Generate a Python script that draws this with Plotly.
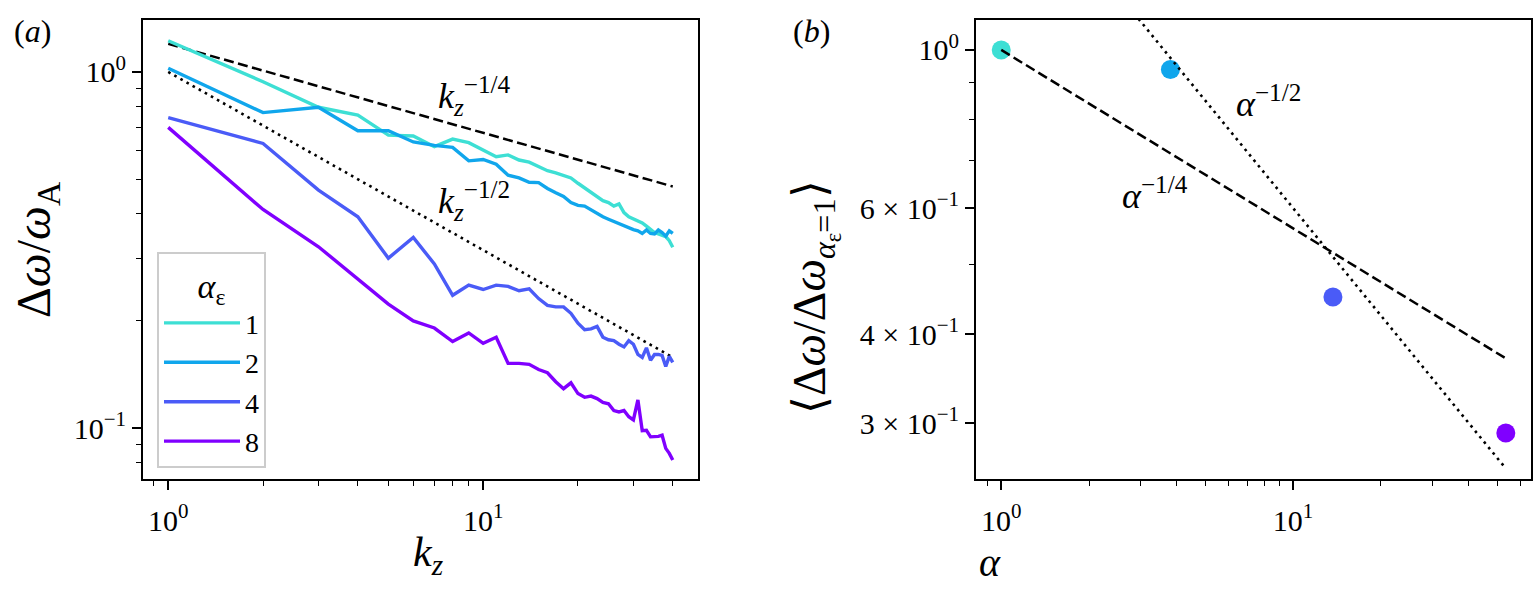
import plotly.graph_objects as go

# ---------------- data ----------------
kz = list(range(1, 41))

dw_a1 = [1.224, 0.939, 0.796, 0.757, 0.665, 0.661, 0.617, 0.648, 0.633, 0.604,
         0.578, 0.585, 0.566, 0.558, 0.542, 0.528, 0.521, 0.513, 0.504, 0.487,
         0.473, 0.460, 0.447, 0.435, 0.430, 0.420, 0.426, 0.403, 0.392, 0.386,
         0.381, 0.377, 0.369, 0.362, 0.354, 0.351, 0.348, 0.345, 0.336, 0.322]

dw_a2 = [1.024, 0.769, 0.796, 0.684, 0.684, 0.636, 0.622, 0.614, 0.563, 0.568,
         0.551, 0.513, 0.504, 0.490, 0.489, 0.471, 0.458, 0.447, 0.430, 0.422,
         0.420, 0.410, 0.399, 0.392, 0.386, 0.380, 0.376, 0.369, 0.364, 0.361,
         0.358, 0.352, 0.360, 0.352, 0.351, 0.360, 0.354, 0.346, 0.358, 0.352]

dw_a4 = [0.744, 0.630, 0.466, 0.392, 0.300, 0.343, 0.289, 0.236, 0.252, 0.245,
         0.252, 0.250, 0.243, 0.246, 0.231, 0.221, 0.219, 0.219, 0.210, 0.197,
         0.189, 0.190, 0.193, 0.180, 0.177, 0.176, 0.172, 0.169, 0.176, 0.172,
         0.161, 0.158, 0.168, 0.155, 0.161, 0.161, 0.160, 0.149, 0.159, 0.153]

dw_a8 = [0.699, 0.411, 0.323, 0.262, 0.223, 0.200, 0.191, 0.175, 0.185, 0.173,
         0.180, 0.152, 0.152, 0.151, 0.146, 0.143, 0.135, 0.129, 0.134, 0.125,
         0.122, 0.123, 0.121, 0.118, 0.117, 0.112, 0.111, 0.112, 0.1076, 0.1054,
         0.120, 0.0983, 0.0986, 0.0945, 0.0946, 0.0948, 0.0955, 0.0877, 0.0849, 0.0813]

series = [dw_a1, dw_a2, dw_a4, dw_a8]
alpha_eps_labels = ["1", "2", "4", "8"]
colors = ["#3ddfd4", "#10a6ec", "#4a5bf7", "#8000ff"]

ref_kz = [1, 40]
ref_kz_quarter = [1.2, 0.477]
ref_kz_half = [1.0, 0.158]

alpha = [1.0, 3.8, 13.7, 53.6]
ratio = [1.0, 0.939, 0.451, 0.291]
ref_alpha = [1.0, 53.6]
ref_alpha_quarter = [1.0, 0.370]
ref_alpha_half = [1.9, 0.2595]

# ---------------- figure ----------------
W, H = 1540, 596
FONT = "Liberation Serif"


def px(x):
    return x / W


def py(y):
    return 1 - y / H


fig = go.Figure()

# reference power laws, panel (a)
fig.add_trace(go.Scatter(x=ref_kz, y=ref_kz_quarter, mode="lines", showlegend=False,
                         line=dict(color="black", width=2.5, dash="10px,4.5px"),
                         xaxis="x", yaxis="y"))
fig.add_trace(go.Scatter(x=ref_kz, y=ref_kz_half, mode="lines", showlegend=False,
                         line=dict(color="black", width=2.6, dash="2.6px,4.4px"),
                         xaxis="x", yaxis="y"))

for s, lab, c in zip(series, alpha_eps_labels, colors):
    fig.add_trace(go.Scatter(x=kz, y=s, mode="lines", name=lab,
                             line=dict(color=c, width=3.4),
                             xaxis="x", yaxis="y"))

# panel (b)
fig.add_trace(go.Scatter(x=alpha, y=ratio, mode="markers", showlegend=False,
                         marker=dict(color=colors, size=19, line=dict(width=0)),
                         xaxis="x2", yaxis="y2"))
fig.add_trace(go.Scatter(x=ref_alpha, y=ref_alpha_quarter, mode="lines", showlegend=False,
                         line=dict(color="black", width=2.5, dash="10px,4.5px"),
                         xaxis="x2", yaxis="y2"))
fig.add_trace(go.Scatter(x=ref_alpha, y=ref_alpha_half, mode="lines", showlegend=False,
                         line=dict(color="black", width=2.6, dash="2.6px,4.4px"),
                         xaxis="x2", yaxis="y2"))

tickfont = dict(family=FONT, size=30, color="black")
common = dict(type="log", showline=True, linewidth=2, linecolor="black", mirror=True,
              ticks="outside", ticklen=9, tickwidth=1.6, tickcolor="black",
              showgrid=False, zeroline=False, tickfont=tickfont)


def minor(vals):
    return dict(tickvals=vals, ticks="outside", ticklen=5, tickwidth=1.3,
                tickcolor="black", showgrid=False)


ydom = [py(479), py(20)]
fig.update_layout(
    width=W, height=H,
    margin=dict(l=0, r=0, t=0, b=0),
    paper_bgcolor="white", plot_bgcolor="white",
    xaxis=dict(common, domain=[px(143), px(698)], range=[-0.0801, 1.6822], anchor="y",
               tickvals=[1, 10], ticktext=["10<sup>0</sup>", "10<sup>1</sup>"],
               ticklabelstandoff=5,
               minor=minor([0.9, 2, 3, 4, 5, 6, 7, 8, 9, 20, 30, 40])),
    yaxis=dict(common, domain=ydom, range=[-1.143, 0.146], anchor="x",
               tickvals=[0.1, 1], ticktext=["10<sup>−1</sup>", "10<sup>0</sup>"],
               minor=minor([0.08, 0.09, 0.2, 0.3, 0.4, 0.5, 0.6, 0.7, 0.8, 0.9])),
    xaxis2=dict(common, domain=[px(976), px(1531)], range=[-0.0865, 1.8155], anchor="y2",
                tickvals=[1, 10], ticktext=["10<sup>0</sup>", "10<sup>1</sup>"],
                ticklabelstandoff=5,
                minor=minor([0.9, 2, 3, 4, 5, 6, 7, 8, 9, 20, 30, 40, 50, 60])),
    yaxis2=dict(common, domain=ydom, range=[-0.6006, 0.0419], anchor="x2",
                tickvals=[0.3, 0.4, 0.6, 1.0],
                ticktext=["3 × 10<sup>−1</sup>", "4 × 10<sup>−1</sup>",
                          "6 × 10<sup>−1</sup>", "10<sup>0</sup>"],
                minor=minor([0.5, 0.7, 0.8, 0.9])),
    legend=dict(x=px(157), y=py(252), xanchor="left", yanchor="top",
                bgcolor="rgba(255,255,255,0.85)", bordercolor="#cccccc", borderwidth=2,
                font=dict(family=FONT, size=28, color="black"),
                title=dict(text="<i>α</i><sub>ε</sub>", side="top center",
                           font=dict(family=FONT, size=34, color="black")),
                itemwidth=76),
)

ann_font = dict(family=FONT, size=36, color="black")
annots = [
    dict(text="(<i>a</i>)", x=px(32), y=py(31), font=dict(family=FONT, size=32, color="black")),
    dict(text="(<i>b</i>)", x=px(811), y=py(31), font=dict(family=FONT, size=32, color="black")),
    dict(text="Δ<i>ω</i>/<i>ω</i><sub>A</sub>", x=px(37), y=py(250), textangle=-90,
         font=dict(family=FONT, size=48, color="black")),
    dict(text="<i>k<sub>z</sub></i>", x=px(428), y=py(555), font=dict(family=FONT, size=42, color="black")),
    dict(text="⟨Δ<i>ω</i>/Δ<i>ω</i><sub><i>α</i><sub>ε</sub>=1</sub>⟩", x=px(815), y=py(297),
         textangle=-90, font=dict(family=FONT, size=46, color="black")),
    dict(text="<i>α</i>", x=px(990), y=py(562), font=dict(family=FONT, size=40, color="black")),
    dict(text="<i>k<sub>z</sub></i><sup>−1/4</sup>", x=px(474), y=py(96), font=ann_font),
    dict(text="<i>k<sub>z</sub></i><sup>−1/2</sup>", x=px(474), y=py(201), font=ann_font),
    dict(text="<i>α</i><sup>−1/2</sup>", x=px(1268), y=py(101), font=ann_font),
    dict(text="<i>α</i><sup>−1/4</sup>", x=px(1155), y=py(193), font=ann_font),
]
for a in annots:
    a.update(xref="paper", yref="paper", showarrow=False, xanchor="center", yanchor="middle")
fig.update_layout(annotations=annots)

fig.write_html("out.html")
